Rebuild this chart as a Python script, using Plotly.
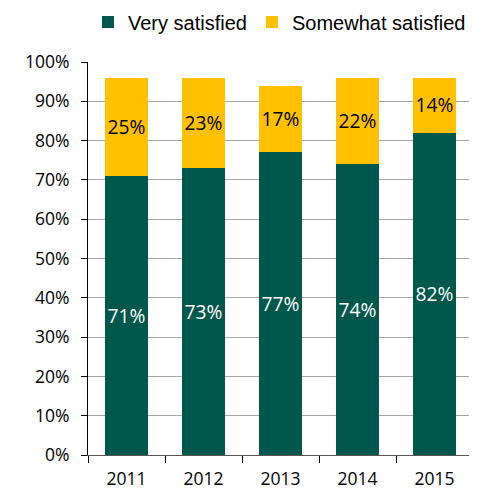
import plotly.graph_objects as go

years = ["2011", "2012", "2013", "2014", "2015"]
very = [71, 73, 77, 74, 82]
somewhat = [25, 23, 17, 22, 14]
y_ticks = [0, 10, 20, 30, 40, 50, 60, 70, 80, 90, 100]

green = "#00574B"
yellow = "#FFC000"
lab_font = "Open Sans"

fig = go.Figure()
fig.add_trace(go.Bar(
    x=years, y=very, name="Very satisfied", marker_color=green, marker_line_width=0,
    text=[f"{v}%" for v in very], textposition="inside", insidetextanchor="middle",
    textfont=dict(color="white", size=20, family=lab_font), textangle=0,
))
fig.add_trace(go.Bar(
    x=years, y=somewhat, name="Somewhat satisfied", marker_color=yellow, marker_line_width=0,
    text=[f"{v}%" for v in somewhat], textposition="inside", insidetextanchor="middle",
    textfont=dict(color="black", size=20, family=lab_font), textangle=0,
))

# page body has an 8px margin, so the figure is sized to fit the window
fig.update_layout(
    barmode="stack", bargap=0.43,
    width=469, height=484,
    margin=dict(l=80, r=4, t=54, b=37, autoexpand=False),
    plot_bgcolor="white", paper_bgcolor="white",
    legend=dict(orientation="h", x=0.0, xanchor="left", y=0.971, yanchor="middle",
                yref="container", font=dict(family="Liberation Sans", size=20, color="black"),
                traceorder="normal", itemwidth=30,
                bgcolor="rgba(0,0,0,0)"),
    xaxis=dict(type="category", tickson="boundaries", ticks="outside", ticklen=7,
               tickcolor="black", showline=True, linecolor="#555555", automargin=False,
               ticklabelstandoff=8,
               tickfont=dict(family=lab_font, size=17.5, color="black")),
    yaxis=dict(range=[0, 100], tickvals=y_ticks, ticktext=[f"{t}%" for t in y_ticks],
               ticks="outside", ticklen=6, tickcolor="black", showline=True, linecolor="black",
               gridcolor="#A6A6A6", gridwidth=1, zeroline=False, automargin=False,
               ticklabelstandoff=8,
               tickfont=dict(family=lab_font, size=17.5, color="black")),
)
fig.write_html("out.html")
